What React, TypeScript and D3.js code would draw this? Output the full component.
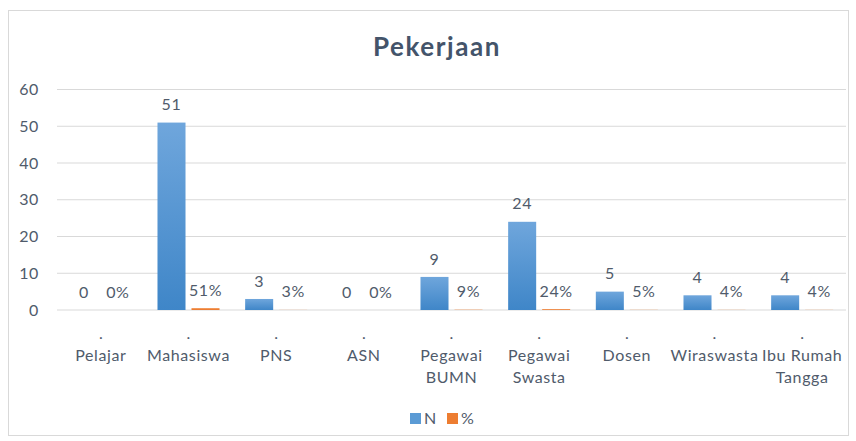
import * as d3 from "d3";

const categories = [
  ["Pelajar"],
  ["Mahasiswa"],
  ["PNS"],
  ["ASN"],
  ["Pegawai", "BUMN"],
  ["Pegawai", "Swasta"],
  ["Dosen"],
  ["Wiraswasta"],
  ["Ibu Rumah", "Tangga"],
];
const nValues = [0, 51, 3, 0, 9, 24, 5, 4, 4];
const pctValues = [0, 0.51, 0.03, 0, 0.09, 0.24, 0.05, 0.04, 0.04];
const series = ["N", "%"];
const yTicks = [0, 10, 20, 30, 40, 50, 60];

const W = 856;
const H = 441;
const font = "Lato, 'Open Sans', sans-serif";
const textColor = "#505b6b";
const fs = 16;
const ls = 0.6;

export default function App() {
  const keys = categories.map((c) => c.join(" "));
  const x = d3.scaleBand().domain(keys).range([57, 846]);
  const xs = d3
    .scaleBand()
    .domain(series)
    .range([0, x.bandwidth()])
    .paddingInner(0.176)
    .paddingOuter(0.377);
  const y = d3.scaleLinear().domain([0, 60]).range([310, 89.5]);
  const pct = d3.format(".0%");

  return (
    <svg
      width={W}
      height={H}
      style={{ position: "absolute", left: 0, top: 0, background: "#fff" }}
      fontFamily={font}
    >
      <defs>
        <linearGradient id="gN" x1="0" y1="0" x2="0" y2="1">
          <stop offset="0" stopColor="#6fa6dc" />
          <stop offset="1" stopColor="#3f86c8" />
        </linearGradient>
        <linearGradient id="gP" x1="0" y1="0" x2="0" y2="1">
          <stop offset="0" stopColor="#f4914a" />
          <stop offset="1" stopColor="#e8762c" />
        </linearGradient>
      </defs>
      <rect x={8.5} y={10.5} width={840} height={425} fill="#fff" stroke="#d9d9d9" />
      <text
        x={437}
        y={56}
        textAnchor="middle"
        fontSize={26}
        fontWeight="bold"
        letterSpacing={1.6}
        fill="#44546a"
      >
        Pekerjaan
      </text>

      {yTicks.map((t) => (
        <g key={t}>
          <line x1={57} x2={846} y1={y(t)} y2={y(t)} stroke="#d9d9d9" />
          <text
            x={39}
            y={y(t)}
            dy="0.35em"
            textAnchor="end"
            fontSize={fs}
            letterSpacing={ls}
            fill={textColor}
          >
            {t}
          </text>
        </g>
      ))}

      {keys.map((k, i) => {
        const x0 = x(k)!;
        const bx = x0 + xs("N")!;
        const px = x0 + xs("%")!;
        const bw = xs.bandwidth();
        const cx = x0 + x.bandwidth() / 2;
        return (
          <g key={k}>
            <rect
              x={bx}
              y={y(nValues[i])}
              width={bw}
              height={y(0) - y(nValues[i])}
              fill="url(#gN)"
            />
            <rect
              x={px}
              y={y(pctValues[i])}
              width={bw}
              height={y(0) - y(pctValues[i])}
              fill="url(#gP)"
            />
            <text
              x={bx + bw / 2}
              y={y(nValues[i]) - 18}
              dy="0.35em"
              textAnchor="middle"
              fontSize={fs}
              letterSpacing={ls}
              fill={textColor}
            >
              {nValues[i]}
            </text>
            <text
              x={px + bw / 2}
              y={y(pctValues[i]) - 18}
              dy="0.35em"
              textAnchor="middle"
              fontSize={fs}
              letterSpacing={ls}
              fill={textColor}
            >
              {pct(pctValues[i])}
            </text>
            <text x={cx} y={333} dy="0.35em" textAnchor="middle" fontSize={fs} fill={textColor}>
              .
            </text>
            {categories[i].map((line, j) => (
              <text
                key={j}
                x={cx}
                y={355 + j * 22}
                dy="0.35em"
                textAnchor="middle"
                fontSize={fs}
                letterSpacing={ls}
                fill={textColor}
              >
                {line}
              </text>
            ))}
          </g>
        );
      })}

      {series.map((s, i) => (
        <g key={s} transform={`translate(${410 + i * 37},413)`}>
          <rect width={11} height={11} fill={i === 0 ? "#5b9bd5" : "#ed7d31"} />
          <text x={14} y={5.5} dy="0.35em" fontSize={fs} fill={textColor}>
            {s}
          </text>
        </g>
      ))}
    </svg>
  );
}
